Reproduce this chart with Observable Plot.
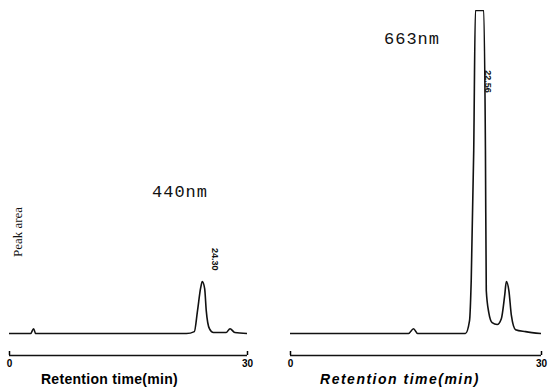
<!DOCTYPE html>
<html><head><meta charset="utf-8">
<script src="https://cdn.jsdelivr.net/npm/d3@7"></script>
<script src="https://cdn.jsdelivr.net/npm/@observablehq/plot@0.6"></script>
<style>
body{margin:0;background:#fff;width:550px;height:389px;overflow:hidden;position:relative;font-family:"Liberation Sans",sans-serif}
#left{position:absolute;left:0;top:0}
#right{position:absolute;left:275px;top:0}
.txt{position:absolute;white-space:nowrap;color:#111}
</style></head><body>
<div id="left"></div><div id="right"></div>
<div class="txt" style="left:152px;top:183px;font:17px 'Liberation Mono',monospace;letter-spacing:1px">440nm</div>
<div class="txt" style="left:384px;top:30px;font:17px 'Liberation Mono',monospace;letter-spacing:1px">663nm</div>
<div class="txt" style="left:4px;top:224px;font:13px 'Liberation Serif',serif;transform:rotate(-90deg);transform-origin:center;width:60px;text-align:center;margin-left:-16px">Peak area</div>
<script>
// 440 nm trace (time in min, signal in % of full scale)
const time440 = [0, 2.66, 3.04, 3.29, 22.3, 23.3, 23.7, 24.1, 24.3, 24.6, 24.8, 25.2, 25.7, 27.3, 27.8, 28.4, 30.0];
const signal440 = [0, 0, 1.5, 0, 0, 0.6, 7.1, 14.2, 16.1, 13.9, 7.1, 1.5, 0.3, 0.3, 1.5, 0.3, 0];
// 663 nm trace (off-scale peak saturates at 100)
const time663 = [0, 14.1, 14.7, 15.2, 20.9, 21.4, 21.6, 21.9, 22.1, 23.1, 23.3, 23.4, 23.7, 24.1, 24.7, 25.2, 25.6, 25.8, 26.1, 26.4, 26.9, 28.1, 29.9];
const signal663 = [0, 0, 1.5, 0, 0, 4.0, 16.4, 56.7, 100, 100, 56.7, 13.3, 6.5, 3.4, 2.8, 4.6, 11.8, 16.1, 13.3, 5.6, 1.2, 0.6, 0];
const peakTimes = [24.3, 22.6];
const peakLabels = ["24.30", "22.56"];
const xTicks = [0, 30];
const xTitle = "Retention time(min)";
const yDomain = [-6.8, 100];

function panel(times, signals, peakT, peakLab, labelY, right) {
  const data = times.map((t, i) => ({t, v: signals[i]}));
  const svg = Plot.plot({
    width: 275, height: 389,
    marginTop: 10, marginBottom: 34,
    marginLeft: right ? 15 : 9, marginRight: right ? 9 : 28,
    x: {domain: [0, 30]},
    y: {domain: yDomain, axis: null},
    style: {background: "transparent"},
    marks: [
      Plot.ruleY([yDomain[0]], {stroke: "#111", strokeWidth: 1.5}),
      Plot.axisX({ticks: xTicks, tickSize: -4, tickPadding: 8, tickFormat: d => d, label: null,
        fontSize: 10, fontWeight: "bold", fontFamily: "Liberation Sans", strokeWidth: 1.5}),
      Plot.text([xTitle], {frameAnchor: "bottom", dy: 28, fontSize: 14, fontWeight: "bold",
        fontFamily: "Liberation Sans", fontStyle: right ? "italic" : "normal", dx: right ? -16 : -19}),
      Plot.line(data, {x: "t", y: "v", stroke: "#111", strokeWidth: 1.6, curve: "monotone-x", clip: true}),
      Plot.text([peakLab], {x: () => peakT, y: () => labelY, rotate: 90, dx: right ? 8 : 13, fontSize: 9,
        fontWeight: "bold", fontFamily: "Liberation Sans", fill: "#111"})
    ]
  });
  d3.select(svg).selectAll("text").filter(function() { return this.textContent === xTitle; })
    .style("letter-spacing", right ? "1.5px" : "0.3px");
  return svg;
}
document.getElementById("left").append(panel(time440, signal440, peakTimes[0], peakLabels[0], 23, false));
document.getElementById("right").append(panel(time663, signal663, peakTimes[1], peakLabels[1], 78, true));
</script></body></html>
